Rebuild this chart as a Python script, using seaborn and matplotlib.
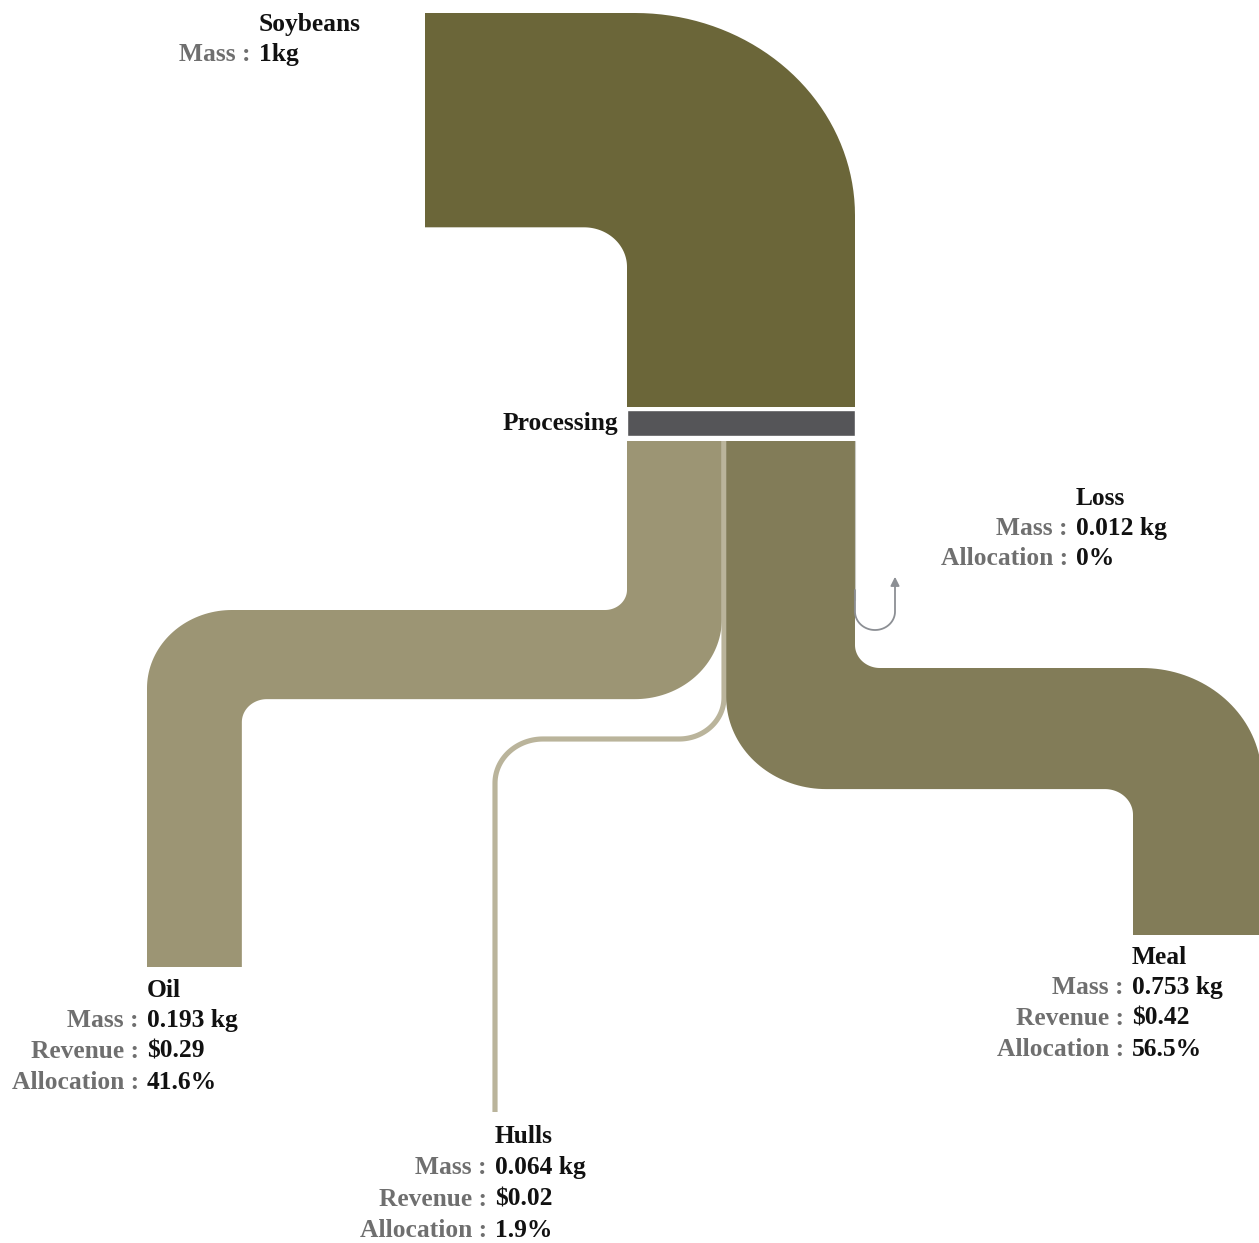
import numpy as np
import matplotlib
matplotlib.use("Agg")
import matplotlib.pyplot as plt
from matplotlib.path import Path
from matplotlib.patches import PathPatch, Rectangle
import seaborn as sns

# ---------------- data ----------------
source_name = "Soybeans"
source_mass = "1kg"
process_name = "Processing"
products = ["Oil", "Hulls", "Meal", "Loss"]
mass_kg = [0.193, 0.064, 0.753, 0.012]
revenue_usd = [0.29, 0.02, 0.42, None]
allocation_pct = [41.6, 1.9, 56.5, 0.0]

palette = sns.color_palette(["#6b6639", "#555558", "#9c9574", "#bab49b", "#827c58", "#8c8f94"])
col_soy, col_proc, col_oil, col_hulls, col_meal, col_loss = palette

# ---------------- style ----------------
sns.set_theme(style="white")
plt.rcParams["font.family"] = ["Liberation Serif", "DejaVu Serif"]
FS = 18.4
KEY_C = "#6f6f6f"
VAL_C = "#111111"

W, H = 1259, 1243
fig = plt.figure(figsize=(W / 100, H / 100), dpi=100)
ax = fig.add_axes([0, 0, 1, 1])
ax.set_xlim(0, W)
ax.set_ylim(H, 0)
ax.axis("off")

# layout scale (pixels for 100 % allocation)
FULL = 228.0
HF = 0.94          # horizontal-run thickness factor
ASP = 0.92         # vertical radius factor
X0 = 627.0
Y_OUT = 441.0


def rounded(points, radii, n=40):
    pts = [np.array(points[0], float)]
    for i in range(1, len(points) - 1):
        P = np.array(points[i], float)
        A = np.array(points[i - 1], float)
        B = np.array(points[i + 1], float)
        d1 = (P - A) / np.linalg.norm(P - A)
        d2 = (B - P) / np.linalg.norm(B - P)
        r = radii[i - 1]
        r1 = r if abs(d1[0]) > 0.5 else r * ASP
        r2 = r if abs(d2[0]) > 0.5 else r * ASP
        c = P - d1 * r1 + d2 * r2
        for t in np.linspace(0, np.pi / 2, n):
            pts.append(c - d2 * r2 * np.cos(t) + d1 * r1 * np.sin(t))
    pts.append(np.array(points[-1], float))
    return np.array(pts)


def band(side_a, ra, side_b, rb, color):
    a = rounded(side_a, ra)
    b = rounded(side_b, rb)[::-1]
    poly = np.vstack([a, b, a[:1]])
    codes = [Path.MOVETO] + [Path.LINETO] * (len(poly) - 2) + [Path.CLOSEPOLY]
    ax.add_patch(PathPatch(Path(poly, codes), facecolor=color, edgecolor="none", zorder=2))


# ---- Soybeans -> Processing
w = FULL
band([(425, 13), (X0 + w, 13), (X0 + w, 407)], [220],
     [(425, 13 + w * HF), (X0, 13 + w * HF), (X0, 407)], [43], col_soy)

# ---- Processing node
ax.add_patch(Rectangle((X0, 410), FULL, 26, facecolor=col_proc, edgecolor="white", lw=1.0, zorder=3))

widths = [a / 100 * FULL for a in allocation_pct]

# ---- Oil
w = widths[0]
xl, xr = X0, X0 + w
yt, xe, ye = 610, 147, 967
band([(xl, Y_OUT), (xl, yt), (xe, yt), (xe, ye)], [22, 85],
     [(xr, Y_OUT), (xr, yt + w * HF), (xe + w, yt + w * HF), (xe + w, ye)], [87, 25], col_oil)

# ---- Hulls (thin)
w = widths[1]
xc = X0 + widths[0] + w / 2
hp = rounded([(xc, Y_OUT), (xc, 739), (495, 739), (495, 1112)], [45, 48])
ax.plot(hp[:, 0], hp[:, 1], color=col_hulls, lw=w * 0.72 + 0.6, solid_capstyle="butt", zorder=2)

# ---- Meal
w = widths[2]
xl, xr = X0 + widths[0] + widths[1], X0 + FULL
yt, xe, ye = 668, 1133, 935
band([(xl, Y_OUT), (xl, yt + w * HF), (xe, yt + w * HF), (xe, ye)], [100, 28],
     [(xr, Y_OUT), (xr, yt), (xe + w, yt), (xe + w, ye)], [25, 120], col_meal)

# ---- Loss (0 % allocation -> thin return arrow)
lp = rounded([(X0 + FULL, 590), (X0 + FULL, 630), (895, 630), (895, 590)], [20, 20])
ax.plot([X0 + FULL, X0 + FULL], [Y_OUT, 600], color="#c9c9c4", lw=0.8, zorder=3)
ax.plot(lp[:, 0], lp[:, 1], color=col_loss, lw=1.3, zorder=3)
ax.annotate("", xy=(895, 574), xytext=(895, 592),
            arrowprops=dict(arrowstyle="-|>", color=col_loss, lw=1.3, mutation_scale=13), zorder=3)


# ---------------- labels ----------------
def label(col, y, name, rows, dy=30.7):
    ax.text(col, y, name, ha="left", va="center", fontsize=FS, fontweight="bold", color=VAL_C)
    for i, (k, v) in enumerate(rows):
        yy = y + (i + 1) * dy
        ax.text(col - 8, yy, k + " :", ha="right", va="center", fontsize=FS, fontweight="bold", color=KEY_C)
        ax.text(col, yy, v, ha="left", va="center", fontsize=FS, fontweight="bold", color=VAL_C)


def rows_for(i):
    r = [("Mass", f"{mass_kg[i]:.3f} kg")]
    if revenue_usd[i] is not None:
        r.append(("Revenue", f"\\${revenue_usd[i]:.2f}"))
    r.append(("Allocation", f"{allocation_pct[i]:g}%"))
    return r


label(259, 24, source_name, [("Mass", source_mass)])
ax.text(618, 423, process_name, ha="right", va="center", fontsize=FS, fontweight="bold", color=VAL_C)
label(147, 990, products[0], rows_for(0))
label(495, 1136.5, products[1], rows_for(1), dy=31.3)
label(1132, 957, products[2], rows_for(2))
label(1076, 498, products[3], rows_for(3), dy=30)

fig.savefig("out.png", dpi=100)
